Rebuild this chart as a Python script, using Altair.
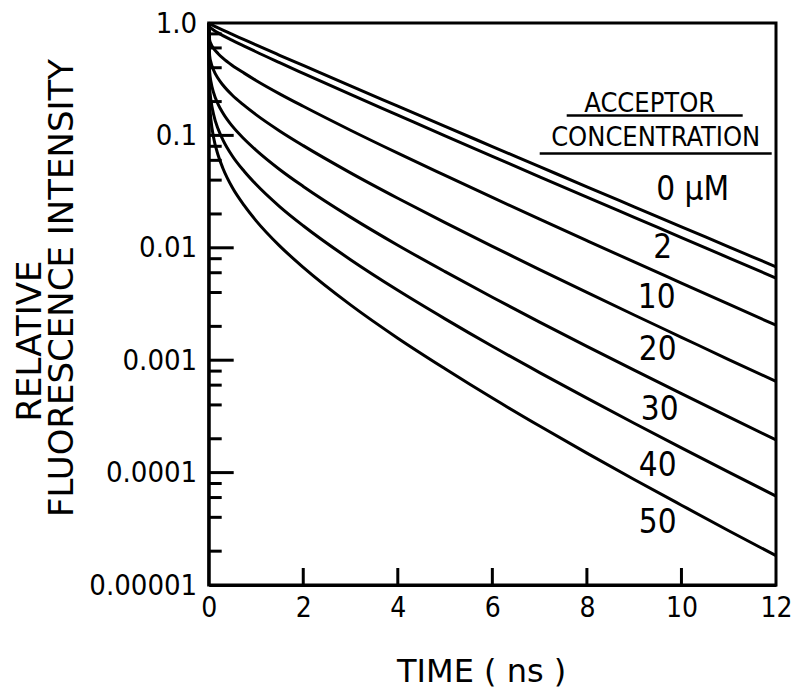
import altair as alt
import pandas as pd

# ---------------- data ----------------
time_ns = [0, 0.02, 0.05, 0.1, 0.2, 0.3, 0.5, 0.75, 1, 1.5, 2, 3, 4, 5, 6, 7, 8, 9, 10, 11, 12]
# log10 of the relative fluorescence intensity, one list per acceptor concentration
log_i_0 = [0, -0.006, -0.013, -0.024, -0.044, -0.064, -0.102, -0.148, -0.195, -0.287, -0.378, -0.560, -0.740, -0.920, -1.099, -1.278, -1.457, -1.635, -1.813, -1.991, -2.169]
log_i_2 = [0, -0.034, -0.046, -0.062, -0.088, -0.112, -0.155, -0.205, -0.256, -0.353, -0.448, -0.636, -0.820, -1.004, -1.186, -1.368, -1.549, -1.729, -1.909, -2.089, -2.269]
log_i_10 = [0, -0.151, -0.187, -0.224, -0.273, -0.313, -0.378, -0.446, -0.511, -0.630, -0.741, -0.954, -1.158, -1.356, -1.552, -1.745, -1.936, -2.126, -2.314, -2.502, -2.689]
log_i_20 = [0, -0.290, -0.354, -0.416, -0.494, -0.552, -0.643, -0.733, -0.815, -0.960, -1.091, -1.333, -1.559, -1.776, -1.987, -2.194, -2.397, -2.598, -2.796, -2.994, -3.189]
log_i_30 = [0, -0.434, -0.527, -0.615, -0.723, -0.800, -0.918, -1.032, -1.131, -1.303, -1.454, -1.727, -1.977, -2.212, -2.440, -2.661, -2.877, -3.089, -3.298, -3.505, -3.709]
log_i_40 = [0, -0.573, -0.694, -0.807, -0.944, -1.039, -1.183, -1.319, -1.435, -1.633, -1.804, -2.106, -2.378, -2.632, -2.876, -3.110, -3.338, -3.561, -3.780, -3.996, -4.209]
log_i_50 = [0, -0.720, -0.871, -1.011, -1.177, -1.292, -1.464, -1.623, -1.758, -1.983, -2.174, -2.508, -2.804, -3.076, -3.337, -3.586, -3.827, -4.061, -4.290, -4.517, -4.739]

series_names = ["0 µM", "2", "10", "20", "30", "40", "50"]
series_logs = [log_i_0, log_i_2, log_i_10, log_i_20, log_i_30, log_i_40, log_i_50]

x_tick_values = [0, 2, 4, 6, 8, 10, 12]
x_inner_ticks = [2, 4, 6, 8, 10]
y_tick_values = [1.0, 0.1, 0.01, 0.001, 0.0001, 0.00001]
y_tick_labels = ["1.0", "0.1", "0.01", "0.001", "0.0001", "0.00001"]
y_minor_ticks = [0.8, 0.6, 0.4, 0.2,
                 0.08, 0.06, 0.04, 0.02,
                 0.008, 0.006, 0.004, 0.002,
                 0.0008, 0.0006, 0.0004, 0.0002,
                 0.00008, 0.00006, 0.00004, 0.00002]

legend_title = ["ACCEPTOR", "CONCENTRATION"]
x_title = "TIME ( ns )"
y_title = ["RELATIVE", "FLUORESCENCE  INTENSITY"]

# ---------------- table ----------------
rows = []
for name, logs in zip(series_names, series_logs):
    for t, lv in zip(time_ns, logs):
        rows.append({"series": name, "t": t, "intensity": 10 ** lv})
df = pd.DataFrame(rows)

# ---------------- layout ----------------
W, H = 567.3, 562.0
FONT = "DejaVu Sans Condensed, DejaVu Sans"
TFONT = "DejaVu Sans"

xscale = alt.Scale(domain=[0, 12], nice=False, zero=False)
yscale = alt.Scale(type="log", domain=[0.00001, 1], nice=False)

label_expr = " : ".join(
    f"datum.value > {v * 0.5} ? '{l}'" for v, l in zip(y_tick_values[:-1], y_tick_labels[:-1])
) + f" : '{y_tick_labels[-1]}'"

xaxis = alt.Axis(values=x_tick_values, title=None, ticks=False, grid=False,
                 domainColor="black", domainWidth=3, labelFont=FONT,
                 labelFontSize=28, labelColor="black", labelPadding=9,
                 labelFlush=False, format="d")
yaxis = alt.Axis(values=y_tick_values, title=None, ticks=False, grid=False,
                 domainColor="black", domainWidth=3, labelFont=FONT,
                 labelFontSize=29, labelColor="black", labelPadding=12,
                 labelExpr=label_expr)

X = alt.X("t:Q", scale=xscale, axis=xaxis)
Y = alt.Y("intensity:Q", scale=yscale, axis=yaxis)

lines = alt.Chart(df).mark_line(color="black", strokeWidth=3, interpolate="monotone").encode(
    x=X, y=Y, detail="series:N")

ymaj = alt.Chart(pd.DataFrame({"intensity": y_tick_values[1:-1]})).mark_rule(
    color="black", strokeWidth=3).encode(y=Y, x=alt.value(0), x2=alt.value(25))
ymin = alt.Chart(pd.DataFrame({"intensity": y_minor_ticks})).mark_rule(
    color="black", strokeWidth=3).encode(y=Y, x=alt.value(0), x2=alt.value(13))
xt = alt.Chart(pd.DataFrame({"t": x_inner_ticks})).mark_rule(
    color="black", strokeWidth=3).encode(x=X, y=alt.value(H), y2=alt.value(H - 17))

one = pd.DataFrame({"a": [0]})

def txt(s, x, y, size, angle=0, font=FONT):
    kw = dict(font=font, fontSize=size, color="black", align="center", baseline="middle")
    if angle:
        kw["angle"] = angle
    return alt.Chart(one).mark_text(**kw).encode(
        x=alt.value(x), y=alt.value(y), text=alt.value(s))

label_pos = [(484, 167), (454, 225), (448, 275), (449, 327), (451, 387), (449, 443), (449, 500)]
layers = [lines, ymaj, ymin, xt]
for name, (px, py) in zip(series_names, label_pos):
    layers.append(txt(name, px, py, 33))

layers.append(txt(legend_title[0], 441, 81, 27))
layers.append(txt(legend_title[1], 447, 115, 27))
for (x1, x2, yy) in [(358, 534, 92.5), (331, 563, 130.5)]:
    layers.append(alt.Chart(one).mark_rule(color="black", strokeWidth=2.5).encode(
        x=alt.value(x1), x2=alt.value(x2), y=alt.value(yy)))

layers.append(txt(x_title, 273, 649, 32, font=TFONT))
layers.append(txt(y_title[0], -178, 318, 34, angle=270, font=TFONT))
layers.append(txt(y_title[1], -146, 265, 34, angle=270, font=TFONT))

chart = alt.layer(*layers).properties(
    width=W, height=H,
    autosize=alt.AutoSizeParams(type="none"),
    padding={"left": 200.7, "top": 15, "right": 16, "bottom": 106},
).configure_view(stroke="black", strokeWidth=3)

chart.save("out.html", embed_options={"renderer": "svg", "actions": False})
